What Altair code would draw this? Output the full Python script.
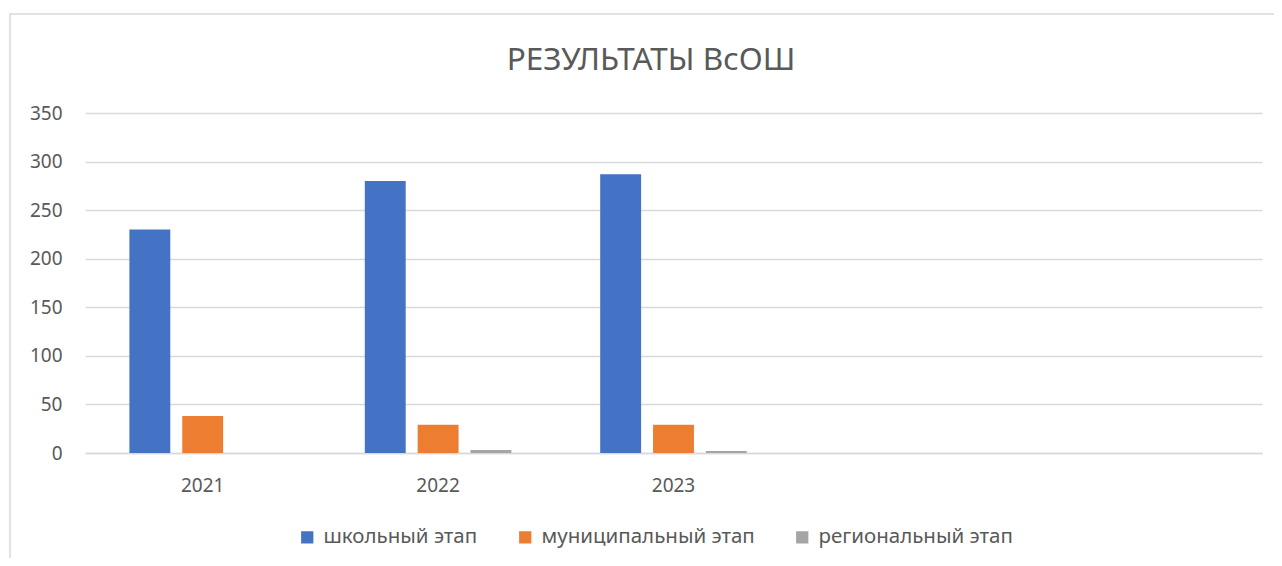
import altair as alt
import pandas as pd

years = ["2021", "2022", "2023"]
slots = ["2021", "2022", "2023", "slot4", "slot5"]
stages = ["школьный этап", "муниципальный этап", "региональный этап"]
school = [230, 280, 287]
municipal = [38, 29, 29]
regional = [0, 3, 2]
colors = ["#4472C4", "#ED7D31", "#A5A5A5"]
y_ticks = [0, 50, 100, 150, 200, 250, 300, 350]
title_text = "РЕЗУЛЬТАТЫ ВсОШ"

rows = []
for i, yr in enumerate(years):
    for s, vals in zip(stages, [school, municipal, regional]):
        rows.append({"year": yr, "stage": s, "value": vals[i]})
df = pd.DataFrame(rows)

FONT = "Noto Sans"
TXT = "#595959"
GRID = "#d9d9d9"

one = pd.DataFrame({"a": [0]})

border = alt.Chart(one).mark_rect(
    fill=None, stroke=GRID, strokeWidth=1.5
).encode(
    x=alt.value(-75), x2=alt.value(1400), y=alt.value(-99), y2=alt.value(700)
)

title = alt.Chart(one).mark_text(
    font=FONT, fontSize=31.5, color=TXT, align="center", baseline="alphabetic"
).encode(
    x=alt.value(566), y=alt.value(-43), text=alt.value(title_text)
)

bars = alt.Chart(df).mark_bar().encode(
    x=alt.X(
        "year:N",
        scale=alt.Scale(domain=slots, paddingInner=0, paddingOuter=0),
        axis=alt.Axis(
            title=None,
            labelExpr="indexof(['2021','2022','2023'], datum.value) >= 0 ? datum.value : ''",
            labelAngle=0,
            ticks=False,
            domainColor=GRID,
            domainWidth=1.5,
            labelPadding=23,
            labelFontSize=19,
            labelColor=TXT,
            labelFont=FONT,
            grid=False,
        ),
    ),
    xOffset=alt.XOffset(
        "stage:N",
        scale=alt.Scale(domain=stages, paddingInner=0.226, paddingOuter=0.84),
    ),
    y=alt.Y(
        "value:Q",
        scale=alt.Scale(domain=[0, 350], nice=False),
        axis=alt.Axis(
            title=None,
            values=y_ticks,
            domain=False,
            ticks=False,
            grid=True,
            gridColor=GRID,
            gridWidth=1.5,
            labelPadding=23,
            labelFontSize=19,
            labelColor=TXT,
            labelFont=FONT,
        ),
    ),
    color=alt.Color(
        "stage:N",
        scale=alt.Scale(domain=stages, range=colors),
        legend=alt.Legend(
            title=None,
            orient="none",
            legendX=212,
            legendY=414,
            direction="horizontal",
            symbolType="square",
            symbolSize=150,
            symbolStrokeWidth=0,
            labelFontSize=20.5,
            labelFont=FONT,
            labelColor=TXT,
            labelLimit=400,
            columnPadding=37,
            labelOffset=6,
        ),
    ),
)

chart = alt.layer(border, title, bars).properties(
    width=1177,
    height=340,
    autosize=alt.AutoSizeParams(type="none"),
    padding={"left": 77, "top": 105, "right": 12, "bottom": 105},
).configure_view(stroke=None)

chart.save("out.html", embed_options={"renderer": "svg", "actions": False})
